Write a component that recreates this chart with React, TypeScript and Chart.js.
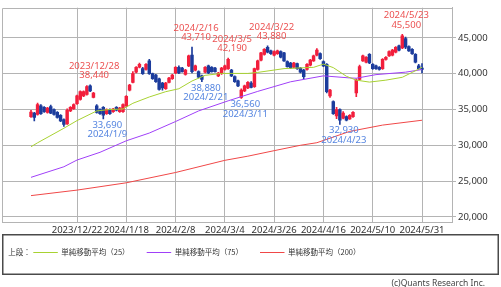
import { useEffect, useRef } from "react";
import { Chart, registerables } from "chart.js";

Chart.register(...registerables);

// ---- data (trading-day index 0 = 2023/12/4) ----
const opens = [
  34000, 34500, 34300, 35500, 35300, 34600, 35400, 35000, 34600, 34200,
  33600, 33000, 34800, 35100, 35800, 36400, 36900, 37100, 38300, 36700,
  35500, 35000, 35300, 34400, 35000, 34700, 35300, 34700, 34700, 35500,
  37700, 38800, 40200, 40900, 40700, 40600, 41800, 40000, 39800, 39300,
  38700, 37900, 38800, 39300, 40100, 40900, 40800, 39900, 41100, 42600,
  40500, 40300, 39700, 40200, 41100, 40900, 40800, 39700, 40000, 40600,
  40700, 40500, 39600, 39000, 36700, 37600, 38000, 38700, 38200, 40600,
  41900, 42700, 43700, 43200, 42600, 42800, 43100, 42900, 41700, 41500,
  40900, 41400, 40800, 40500, 40600, 41200, 41800, 42600, 42800, 41700,
  41300, 36900, 36100, 34100, 35000, 33800, 34000, 33700, 34000, 37300,
  39200, 41800, 41600, 42700, 41300, 41100, 40900, 40700, 42000, 42500,
  42600, 43000, 43900, 43600, 44900, 43800, 43400, 42700, 41100, 40800,
];
const highs = [
  34900, 34600, 35900, 35700, 35400, 35300, 35600, 35100, 34700, 34300,
  33700, 35100, 35400, 35800, 37000, 37600, 37600, 38350, 38440, 37400,
  35700, 35100, 35400, 35100, 35100, 35150, 35400, 35300, 35800, 36950,
  38500, 40300, 41000, 41500, 40900, 41400, 42000, 40100, 39900, 39400,
  38800, 38800, 39500, 39900, 41000, 41100, 40900, 40600, 42600, 43710,
  41200, 40400, 39800, 41000, 41200, 41000, 40900, 40200, 40900, 41200,
  42190, 40600, 39700, 39100, 37900, 38400, 38900, 38900, 40800, 41900,
  43000, 43500, 43880, 43300, 43200, 43300, 43200, 43000, 41800, 41600,
  41600, 41500, 40900, 40600, 41400, 42000, 42600, 43500, 42900, 41800,
  41400, 37800, 36200, 35300, 35100, 34700, 34100, 34300, 34700, 39300,
  41200, 42600, 42400, 42800, 41400, 41200, 41000, 42100, 42400, 43200,
  43400, 43800, 44000, 45500, 45100, 43900, 43500, 42800, 41300, 41400,
];
const lows = [
  33900, 33400, 34200, 34300, 34600, 34500, 34400, 34200, 33800, 33300,
  32650, 32900, 34700, 35000, 35700, 36300, 36800, 37000, 37500, 36600,
  34500, 34300, 33690, 34300, 34300, 34600, 34800, 34600, 34600, 35400,
  37600, 38700, 40100, 40800, 39900, 40500, 39900, 39200, 38800, 37700,
  37700, 37800, 38700, 39200, 40000, 40000, 40200, 39800, 41000, 40100,
  40400, 39400, 38880, 40100, 40000, 40200, 40200, 39600, 39900, 40500,
  40600, 39600, 38800, 38200, 36560, 37500, 37900, 38000, 38100, 40500,
  41800, 42600, 42900, 42700, 42500, 42700, 42200, 41700, 40900, 40700,
  40800, 40600, 40100, 39300, 40500, 41100, 41700, 42500, 42000, 41000,
  37300, 36700, 34300, 33720, 32930, 33700, 33400, 33600, 33900, 36800,
  39100, 41700, 41500, 41400, 40600, 40600, 40500, 40600, 41900, 42400,
  42500, 42900, 43200, 43500, 43500, 43100, 42700, 41500, 40600, 40100,
];
const closes = [
  34650, 33900, 35700, 34400, 34700, 35200, 34500, 34300, 33900, 33400,
  32900, 34900, 35300, 35700, 36900, 37500, 37500, 38200, 37600, 37300,
  34600, 34400, 34200, 35000, 34400, 35050, 34900, 35200, 35700, 36850,
  38400, 40000, 40900, 41300, 40000, 41300, 40000, 39300, 38900, 37800,
  38000, 38700, 39400, 39800, 40900, 40100, 40300, 40500, 42500, 40300,
  41100, 39500, 39200, 40900, 40100, 40300, 40300, 40100, 40800, 41100,
  42000, 39700, 38900, 38300, 37700, 38300, 38800, 38100, 40700, 41800,
  42900, 43400, 43000, 42800, 43100, 43200, 42300, 41800, 41000, 40800,
  41500, 40700, 40200, 39600, 41300, 41900, 42500, 43300, 42100, 41100,
  37500, 37700, 34400, 35000, 33500, 34500, 33500, 34200, 34600, 39100,
  41000, 42500, 42300, 41500, 40700, 40700, 40600, 42000, 42300, 43100,
  43300, 43700, 43300, 45300, 43700, 43200, 42800, 41600, 40700, 40600,
];

const xTickIdx = [14, 29, 44, 59, 74, 89, 104, 119];
const xTickLabels = [
  "2023/12/22", "2024/1/18", "2024/2/8", "2024/3/4",
  "2024/3/26", "2024/4/16", "2024/5/10", "2024/5/31",
];
const yTicks = [20000, 25000, 30000, 35000, 40000, 45000];

const ma25Idx = [0, 2, 10, 14, 20, 24, 28, 31, 36, 41, 45, 49, 53, 58, 66, 69, 77, 86, 89, 92, 96, 99, 103, 108, 113, 116, 118, 119];
const ma25Val = [29800, 30350, 32380, 33450, 34800, 35000, 35070, 35870, 36750, 37490, 37900, 38980, 39770, 40040, 40040, 40180, 40710, 40890, 41340, 40850, 39640, 39100, 38830, 39100, 39500, 40180, 40650, 40900];
const ma75Idx = [0, 10, 14, 21, 29, 36, 44, 51, 60, 69, 79, 89, 97, 99, 105, 114, 119];
const ma75Val = [25525, 27000, 27940, 29020, 30630, 31710, 33320, 34800, 36210, 37530, 38870, 39700, 39410, 39370, 39870, 40215, 40580];
const ma200Idx = [0, 14, 29, 44, 59, 66, 74, 82, 87, 97, 107, 119];
const ma200Val = [22970, 23740, 24760, 26200, 27900, 28480, 29250, 30000, 30360, 31940, 32820, 33500];

const markIdx = [18, 22, 49, 52, 60, 64, 72, 94, 113];
const markDates = ["2023/12/28", "2024/1/9", "2024/2/16", "2024/2/21", "2024/3/5", "2024/3/11", "2024/3/22", "2024/4/23", "2024/5/23"];
const markKind = ["high", "low", "high", "low", "high", "low", "high", "low", "high"];

const legendPrefix = "上段：";
const legendLabels = ["単純移動平均（25）", "単純移動平均（75）", "単純移動平均（200）"];
const copyright = "(c)Quants Research Inc.";

// ---- styles ----
const UP = "#f21e3c";
const DOWN = "#1c3c9c";
const C25 = "#a8d232";
const C75 = "#a040f8";
const C200 = "#f04848";
const GRID = "#b4b4b4";
const TXT = "#333333";
const ANN_RED = "#ec5252";
const ANN_BLUE = "#5585e0";
const FONT = '"Noto Sans", "DejaVu Sans", sans-serif';

const fmt = (v: number) => v.toLocaleString("en-US");

export default function App() {
  const ref = useRef<HTMLCanvasElement>(null);

  useEffect(() => {
    const canvas = ref.current;
    if (!canvas) return;
    const colors = closes.map((c, i) => (c >= opens[i] ? UP : DOWN));

    const framePlugin = {
      id: "frame",
      beforeDatasetsDraw(chart: any) {
        const { ctx, chartArea } = chart;
        ctx.save();
        ctx.strokeStyle = GRID;
        ctx.lineWidth = 1;
        ctx.beginPath();
        ctx.moveTo(Math.round(chartArea.left) + 0.5, Math.round(chartArea.bottom));
        ctx.lineTo(Math.round(chartArea.left) + 0.5, Math.round(chartArea.top) + 0.5);
        ctx.lineTo(Math.round(chartArea.right), Math.round(chartArea.top) + 0.5);
        ctx.stroke();
        ctx.restore();
      },
    };

    const annPlugin = {
      id: "ann",
      afterDatasetsDraw(chart: any) {
        const { ctx } = chart;
        const xs = chart.scales.x;
        const ys = chart.scales.y;
        ctx.save();
        ctx.font = `9.5px ${FONT}`;
        ctx.textAlign = "center";
        ctx.textBaseline = "middle";
        markIdx.forEach((i, k) => {
          const px = xs.getPixelForValue(i) + 4;
          if (markKind[k] === "high") {
            const vy = ys.getPixelForValue(highs[i]) - 9.5;
            ctx.fillStyle = ANN_RED;
            ctx.fillText(fmt(highs[i]), px, vy);
            ctx.fillText(markDates[k], px, vy - 9.4);
          } else {
            const vy = ys.getPixelForValue(lows[i]) + 6.2;
            ctx.fillStyle = ANN_BLUE;
            ctx.fillText(fmt(lows[i]), px, vy);
            ctx.fillText(markDates[k], px, vy + 9.3);
          }
        });
        ctx.restore();
      },
    };

    const legendPlugin = {
      id: "legendBox",
      afterDraw(chart: any) {
        const { ctx } = chart;
        ctx.save();
        ctx.strokeStyle = "#4a4a4a";
        ctx.lineWidth = 1.5;
        ctx.strokeRect(2.75, 234.75, 495.5, 39.5);
        ctx.font = `7.5px "Noto Sans CJK JP", ${FONT}`;
        ctx.fillStyle = TXT;
        ctx.textBaseline = "middle";
        ctx.textAlign = "left";
        ctx.fillText(legendPrefix, 8.3, 252);
        const lineX = [33.3, 146.7, 260];
        const lineC = [C25, C75, C200];
        lineX.forEach((lx, k) => {
          ctx.strokeStyle = lineC[k];
          ctx.lineWidth = 1;
          ctx.beginPath();
          ctx.moveTo(lx, 252.5);
          ctx.lineTo(lx + 24.5, 252.5);
          ctx.stroke();
          ctx.fillText(legendLabels[k], lx + 28, 252);
        });
        ctx.font = `8.5px ${FONT}`;
        ctx.fillStyle = "#444444";
        ctx.textAlign = "right";
        ctx.fillText(copyright, 485, 283.5);
        ctx.restore();
      },
    };

    const chart = new Chart(canvas, {
      type: "bar",
      data: {
        datasets: [
          {
            type: "line",
            label: "MA25",
            data: ma25Idx.map((x, k) => ({ x, y: ma25Val[k] })),
            borderColor: C25,
            borderWidth: 1,
            pointRadius: 0,
            tension: 0,
            order: 0,
          } as any,
          {
            type: "line",
            label: "MA75",
            data: ma75Idx.map((x, k) => ({ x, y: ma75Val[k] })),
            borderColor: C75,
            borderWidth: 1,
            pointRadius: 0,
            tension: 0,
            order: 0,
          },
          {
            type: "line",
            label: "MA200",
            data: ma200Idx.map((x, k) => ({ x, y: ma200Val[k] })),
            borderColor: C200,
            borderWidth: 1,
            pointRadius: 0,
            tension: 0,
            order: 0,
          },
          {
            type: "bar",
            label: "body",
            data: opens.map((o, i) => ({ x: i, y: [o, closes[i]] })),
            backgroundColor: colors,
            borderWidth: 0,
            barThickness: 2.8,
            grouped: false,
            order: 1,
          },
          {
            type: "bar",
            label: "wick",
            data: lows.map((l, i) => ({ x: i, y: [l, highs[i]] })),
            backgroundColor: colors,
            borderWidth: 0,
            barThickness: 1,
            grouped: false,
            order: 2,
          },
        ],
      },
      options: {
        responsive: false,
        animation: false,
        devicePixelRatio: 1,
        layout: { padding: { left: 2, top: 0, right: 0, bottom: 51 } },
        plugins: { legend: { display: false }, tooltip: { enabled: false } },
        scales: {
          x: {
            type: "linear",
            min: -8.83,
            max: 128.13,
            offset: false,
            grid: { offset: false, color: GRID, lineWidth: 1, drawTicks: false },
            border: { display: true, color: GRID },
            afterBuildTicks: (scale: any) => {
              scale.ticks = xTickIdx.map((v) => ({ value: v }));
            },
            afterFit: (scale: any) => {
              scale.height = 14;
            },
            ticks: {
              autoSkip: false,
              maxRotation: 0,
              padding: 3,
              color: TXT,
              font: { family: FONT, size: 9.5 },
              callback: (v: any) => {
                const k = xTickIdx.indexOf(Number(v));
                return k >= 0 ? xTickLabels[k] : "";
              },
            },
          },
          y: {
            type: "linear",
            position: "right",
            min: 19285,
            max: 49220,
            grid: { color: GRID, lineWidth: 1, tickLength: 4 },
            border: { display: true, color: GRID },
            afterBuildTicks: (scale: any) => {
              scale.ticks = yTicks.map((v) => ({ value: v }));
            },
            afterFit: (scale: any) => {
              scale.width = 49;
            },
            ticks: {
              padding: 2,
              color: TXT,
              font: { family: FONT, size: 9.5 },
              callback: (v: any) => fmt(Number(v)),
            },
          },
        },
      } as any,
      plugins: [framePlugin, annPlugin, legendPlugin],
    });

    return () => chart.destroy();
  }, []);

  return (
    <div style={{ position: "fixed", left: 0, top: 0, width: 501, height: 287, background: "#ffffff" }}>
      <canvas ref={ref} width={501} height={287} style={{ display: "block", width: 501, height: 287 }} />
    </div>
  );
}
